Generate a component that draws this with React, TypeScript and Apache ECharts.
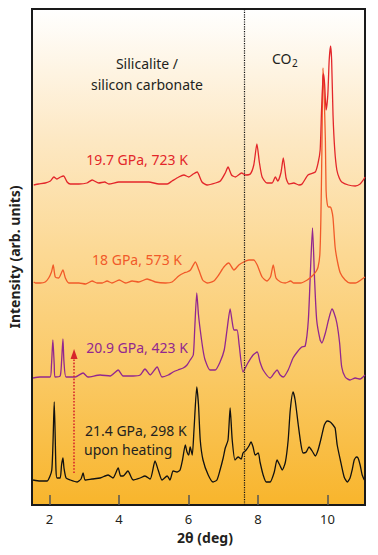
import React, { useEffect, useRef } from "react";
import * as echarts from "echarts";

// 2θ tick labels
const xTicks = [2, 4, 6, 8, 10];

// Intensity (arbitrary units, stacked traces) vs 2θ (deg)
const red723K: [number, number][] = [
  [1.55, 320], [1.69, 321], [1.88, 322], [2.03, 324], [2.13, 328], [2.22, 326], [2.32, 328], [2.41, 329],
  [2.51, 323], [2.6, 321], [2.85, 321], [3.08, 322], [3.23, 325], [3.42, 322], [3.59, 323], [3.71, 321],
  [4.0, 323], [4.28, 323], [4.57, 323], [4.86, 323], [5.15, 321], [5.39, 321], [5.53, 324], [5.72, 328],
  [5.87, 330], [6.01, 328], [6.14, 331], [6.25, 333], [6.39, 323], [6.54, 320], [6.78, 322], [6.92, 324],
  [7.06, 332], [7.14, 338], [7.24, 330], [7.35, 328], [7.53, 332], [7.64, 330], [7.78, 331], [7.88, 340],
  [7.97, 361], [8.04, 343], [8.12, 328], [8.26, 322], [8.41, 322], [8.5, 328], [8.57, 324], [8.66, 332],
  [8.73, 347], [8.81, 327], [8.89, 321], [9.03, 322], [9.18, 320], [9.27, 321], [9.44, 330], [9.65, 333],
  [9.73, 342], [9.79, 355], [9.83, 395], [9.87, 427], [9.89, 431], [9.92, 420], [9.96, 395], [10.01, 410],
  [10.05, 445], [10.09, 459], [10.12, 445], [10.16, 390], [10.21, 355], [10.27, 335], [10.34, 327],
  [10.41, 323], [10.6, 320], [10.8, 319], [10.94, 321], [11.03, 325], [11.08, 328],
];

const orange573K: [number, number][] = [
  [1.55, 223], [1.6, 222], [1.74, 222], [1.88, 223], [1.98, 227], [2.06, 233], [2.11, 240], [2.17, 228],
  [2.27, 227], [2.39, 235], [2.46, 227], [2.56, 222], [2.85, 222], [3.04, 221], [3.23, 224], [3.37, 222],
  [3.52, 222], [3.66, 224], [3.8, 222], [4.01, 225], [4.19, 222], [4.38, 224], [4.57, 223], [4.81, 226],
  [5.05, 223], [5.34, 222], [5.53, 223], [5.72, 229], [5.87, 232], [5.96, 233], [6.06, 235], [6.2, 243],
  [6.3, 235], [6.41, 225], [6.54, 222], [6.73, 224], [6.87, 230], [7.02, 238], [7.16, 242], [7.31, 235],
  [7.45, 240], [7.59, 243], [7.74, 245], [7.88, 245], [7.98, 240], [8.12, 228], [8.26, 224], [8.36, 228],
  [8.44, 240], [8.52, 227], [8.65, 223], [8.79, 222], [8.94, 224], [9.03, 222], [9.22, 222], [9.42, 225],
  [9.59, 230], [9.68, 234], [9.73, 238], [9.78, 250], [9.81, 285], [9.84, 355], [9.87, 437], [9.9, 415],
  [9.94, 365], [9.96, 315], [9.99, 302], [10.03, 298], [10.08, 298], [10.12, 295], [10.16, 287],
  [10.22, 258], [10.29, 243], [10.37, 232], [10.51, 225], [10.65, 222], [10.8, 222], [11.0, 226], [11.08, 228],
];

const purple423K: [number, number][] = [
  [1.53, 127], [1.73, 128], [2.02, 128], [2.06, 140], [2.1, 165], [2.14, 140], [2.16, 128], [2.31, 129],
  [2.35, 143], [2.39, 166], [2.42, 143], [2.48, 128], [2.74, 128], [2.97, 132], [3.11, 128], [3.46, 130],
  [3.75, 129], [3.98, 135], [4.12, 129], [4.41, 129], [4.61, 130], [4.75, 136], [4.9, 130], [5.1, 138],
  [5.24, 128], [5.42, 130], [5.56, 133], [5.7, 135], [5.85, 137], [5.96, 140], [6.05, 145], [6.14, 150],
  [6.18, 175], [6.24, 212], [6.29, 190], [6.34, 175], [6.42, 155], [6.48, 145], [6.62, 135], [6.77, 135],
  [6.91, 143], [7.03, 155], [7.11, 175], [7.2, 196], [7.26, 183], [7.31, 175], [7.4, 175], [7.46, 160],
  [7.57, 133], [7.71, 142], [7.86, 150], [7.98, 153], [8.06, 143], [8.15, 135], [8.35, 127], [8.47, 132],
  [8.55, 135], [8.64, 130], [8.73, 128], [8.87, 135], [9.01, 147], [9.13, 153], [9.26, 158], [9.36, 159],
  [9.45, 185], [9.52, 242], [9.57, 277], [9.63, 225], [9.69, 185], [9.79, 165], [9.84, 162], [9.94, 172],
  [10.03, 185], [10.13, 196], [10.19, 192], [10.27, 182], [10.35, 162], [10.41, 138], [10.51, 128],
  [10.65, 125], [10.8, 127], [10.94, 126], [11.08, 130],
];

const black298K: [number, number][] = [
  [1.53, 25], [1.73, 24], [1.93, 24], [2.07, 35], [2.14, 103], [2.19, 35], [2.22, 27], [2.31, 27],
  [2.35, 40], [2.39, 47], [2.42, 37], [2.48, 27], [2.6, 25], [2.8, 23], [2.91, 26], [2.97, 32], [3.03, 25],
  [3.23, 26], [3.46, 27], [3.69, 30], [3.83, 27], [3.98, 37], [4.05, 29], [4.12, 29], [4.26, 34],
  [4.41, 25], [4.61, 27], [4.75, 29], [4.9, 26], [5.04, 44], [5.13, 35], [5.24, 25], [5.39, 29], [5.47, 25],
  [5.56, 34], [5.67, 33], [5.76, 35], [5.83, 45], [5.91, 60], [5.96, 53], [6.01, 50], [6.05, 58], [6.11, 50],
  [6.16, 75], [6.24, 118], [6.29, 100], [6.34, 65], [6.42, 45], [6.57, 30], [6.71, 23], [6.82, 25],
  [6.91, 35], [7.0, 47], [7.06, 57], [7.14, 65], [7.2, 97], [7.26, 65], [7.34, 45], [7.43, 48], [7.52, 46],
  [7.57, 52], [7.66, 55], [7.74, 59], [7.8, 63], [7.86, 58], [7.92, 50], [8.01, 52], [8.06, 43], [8.15, 30],
  [8.24, 23], [8.35, 23], [8.47, 33], [8.55, 45], [8.64, 39], [8.7, 35], [8.79, 43], [8.87, 65], [8.93, 95],
  [9.01, 113], [9.07, 105], [9.16, 80], [9.24, 60], [9.3, 52], [9.39, 53], [9.47, 58], [9.56, 54],
  [9.65, 49], [9.73, 55], [9.82, 67], [9.91, 80], [9.99, 84], [10.08, 83], [10.16, 80], [10.22, 77],
  [10.28, 60], [10.37, 45], [10.48, 28], [10.57, 23], [10.65, 27], [10.71, 35], [10.77, 45], [10.83, 48],
  [10.88, 47], [10.94, 40], [11.0, 30], [11.06, 25],
];

// annotations
const co2Boundary = 7.6;
const heatingArrow: [number, number][] = [[2.71, 32], [2.71, 151]];

const FONT = "'Noto Sans', 'Open Sans', sans-serif";
const TXT = "#231f20";

export default function App() {
  const ref = useRef<HTMLDivElement>(null);
  useEffect(() => {
    if (!ref.current) return;
    const chart = echarts.init(ref.current, undefined, { renderer: "svg" });
    const line = (data: [number, number][], color: string, z: number, extra: any = {}) => ({
      type: "line",
      data,
      showSymbol: false,
      smooth: 0.2,
      z,
      lineStyle: { color, width: 1.3 },
      ...extra,
    });
    chart.setOption({
      animation: false,
      grid: {
        left: 32,
        right: 13,
        top: 9,
        bottom: 50,
        show: true,
        borderColor: "#1a1a1a",
        borderWidth: 2,
        backgroundColor: {
          type: "linear",
          x: 0, y: 0, x2: 0, y2: 1,
          colorStops: [
            { offset: 0, color: "#ffffff" },
            { offset: 0.25, color: "#fde9c6" },
            { offset: 0.5, color: "#fcd892" },
            { offset: 0.75, color: "#fac862" },
            { offset: 1, color: "#f8b52c" },
          ],
        },
      },
      xAxis: {
        type: "value",
        min: 1.5,
        max: 11.08,
        axisLine: { show: false },
        splitLine: { show: false },
        axisTick: {
          show: true,
          inside: true,
          length: 10,
          customValues: xTicks,
          lineStyle: { color: "#555", width: 1.5 },
        },
        axisLabel: {
          customValues: xTicks,
          margin: 7,
          fontSize: 13,
          color: TXT,
          fontFamily: FONT,
        },
      },
      yAxis: { type: "value", min: 0, max: 496, show: false },
      series: [
        line(black298K, "#111111", 2, {
          markLine: {
            silent: true,
            symbol: "none",
            label: { show: false },
            lineStyle: { color: "#111", type: "dotted", width: 1.2 },
            data: [{ xAxis: co2Boundary }],
          },
        }),
        line(purple423K, "#92278f", 3, {
          markLine: {
            silent: true,
            label: { show: false },
            symbol: ["none", "triangle"],
            symbolSize: [7, 10],
            lineStyle: { color: "#d7262b", type: "dotted", width: 1.6 },
            data: [[{ coord: heatingArrow[0] }, { coord: heatingArrow[1] }]],
          },
        }),
        line(orange573K, "#f15a29", 4),
        line(red723K, "#e3262a", 5),
      ],
      graphic: [
        { type: "text", x: 147, y: 63, style: { text: "Silicalite /", font: `14px ${FONT}`, fill: TXT, textAlign: "center", textVerticalAlign: "middle" } },
        { type: "text", x: 147, y: 84, style: { text: "silicon carbonate", font: `14px ${FONT}`, fill: TXT, textAlign: "center", textVerticalAlign: "middle" } },
        { type: "text", x: 272, y: 58, style: { text: "CO", font: `14px ${FONT}`, fill: TXT, textAlign: "left", textVerticalAlign: "middle" } },
        { type: "text", x: 292, y: 63, style: { text: "2", font: `10px ${FONT}`, fill: TXT, textAlign: "left", textVerticalAlign: "middle" } },
        { type: "text", x: 137, y: 159, style: { text: "19.7 GPa, 723 K", font: `14px ${FONT}`, fill: "#e3262a", textAlign: "center", textVerticalAlign: "middle" } },
        { type: "text", x: 137, y: 259, style: { text: "18 GPa, 573 K", font: `14px ${FONT}`, fill: "#f15a29", textAlign: "center", textVerticalAlign: "middle" } },
        { type: "text", x: 137, y: 347, style: { text: "20.9 GPa, 423 K", font: `14px ${FONT}`, fill: "#92278f", textAlign: "center", textVerticalAlign: "middle" } },
        { type: "text", x: 85, y: 430, style: { text: "21.4 GPa, 298 K", font: `14px ${FONT}`, fill: TXT, textAlign: "left", textVerticalAlign: "middle" } },
        { type: "text", x: 84, y: 449, style: { text: "upon heating", font: `14px ${FONT}`, fill: TXT, textAlign: "left", textVerticalAlign: "middle" } },
        { type: "text", x: 205, y: 537, style: { text: "2θ (deg)", font: `bold 14px ${FONT}`, fill: TXT, textAlign: "center", textVerticalAlign: "middle" } },
        { type: "text", x: 14, y: 257, rotation: Math.PI / 2, style: { text: "Intensity (arb. units)", font: `bold 14px ${FONT}`, fill: TXT, textAlign: "center", textVerticalAlign: "middle" } },
      ],
    });
    return () => chart.dispose();
  }, []);
  return <div ref={ref} style={{ width: 378, height: 555, position: "absolute", left: 0, top: 0 }} />;
}
